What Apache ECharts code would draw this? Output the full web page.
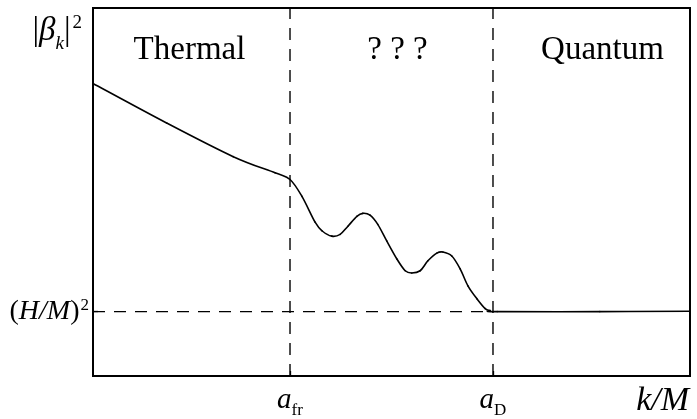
<!DOCTYPE html>
<html>
<head>
<meta charset="utf-8">
<script src="https://cdn.jsdelivr.net/npm/echarts@6/dist/echarts.min.js"></script>
<style>
  html, body { margin: 0; padding: 0; background: #fff; }
  #chart { width: 697px; height: 419px; }
</style>
</head>
<body>
<div id="chart"></div>
<script>
// k/M (arbitrary units, 0..10) and |beta_k|^2 (arbitrary units, 0..10)
var kValues = [0, 1.24, 2.35, 3.05, 3.30, 3.50, 3.72, 3.84, 4.00, 4.14, 4.27, 4.42, 4.52, 4.64, 4.77, 4.92, 5.09, 5.23, 5.34, 5.48, 5.61, 5.76, 5.86, 6.01, 6.15, 6.28, 6.43, 6.57, 6.65, 6.77, 8.49, 10]
var betaValues = [7.95, 6.87, 5.96, 5.52, 5.34, 4.88, 4.18, 3.94, 3.80, 3.85, 4.07, 4.34, 4.42, 4.37, 4.12, 3.67, 3.18, 2.86, 2.80, 2.86, 3.13, 3.34, 3.37, 3.26, 2.91, 2.45, 2.10, 1.83, 1.78, 1.75, 1.75, 1.76]

var A_FR = 3.30   // a_fr
var A_D = 6.70    // a_D
var H_LEVEL = 1.75 // (H/M)^2
var X_MIN = 0, X_MAX = 10
var Y_MIN = 0, Y_MAX = 10

var regionNames = ['Thermal', '? ? ?', 'Quantum']
var regionEdges = [X_MIN, A_FR, A_D, X_MAX]

var FONT = '"Liberation Serif", "Times New Roman", serif'

var curve = kValues.map(function (k, i) { return [k, betaValues[i]] })

var chart = echarts.init(document.getElementById('chart'))

var dash = { type: [12, 9], color: '#000', width: 1.4 }

// smooth curve: one cubic piece per segment, catmull-rom style, points through api.coord
function renderCurve (params, api) {
  var i = params.dataIndex
  var n = curve.length
  if (i >= n - 1) return null
  var p0 = api.coord(curve[Math.max(i - 1, 0)])
  var p1 = api.coord(curve[i])
  var p2 = api.coord(curve[i + 1])
  var p3 = api.coord(curve[Math.min(i + 2, n - 1)])
  return {
    type: 'bezierCurve',
    shape: {
      x1: p1[0], y1: p1[1],
      x2: p2[0], y2: p2[1],
      cpx1: p1[0] + (p2[0] - p0[0]) / 6,
      cpy1: p1[1] + (p2[1] - p0[1]) / 6,
      cpx2: p2[0] - (p3[0] - p1[0]) / 6,
      cpy2: p2[1] - (p3[1] - p1[1]) / 6
    },
    style: { stroke: '#000', lineWidth: 1.6, fill: null, lineCap: 'round' }
  }
}

var opt = {
  animation: false,
  backgroundColor: '#fff',
  grid: {
    show: true,
    left: 93,
    right: 7,
    top: 8,
    bottom: 40,
    borderColor: '#000',
    borderWidth: 2
  },
  xAxis: {
    type: 'value',
    min: X_MIN,
    max: X_MAX,
    splitLine: { show: false },
    axisLine: { show: false },
    axisTick: {
      show: true,
      inside: true,
      length: 5,
      customValues: [A_FR, A_D],
      lineStyle: { color: '#000', width: 1.3 }
    },
    axisLabel: {
      customValues: [A_FR, A_D],
      margin: 10,
      formatter: function (v) {
        return Math.abs(v - A_FR) < 1e-6 ? '{a|a}{s|fr}' : '{a|a}{s|D}'
      },
      rich: {
        a: { fontFamily: FONT, fontStyle: 'italic', fontSize: 29, color: '#000', verticalAlign: 'bottom' },
        s: { fontFamily: FONT, fontSize: 17, color: '#000', verticalAlign: 'bottom', padding: [0, 0, -4, 0] }
      }
    },
    name: 'k/M',
    nameLocation: 'end',
    nameGap: -1,
    nameTextStyle: {
      fontFamily: FONT,
      fontStyle: 'italic',
      fontSize: 34,
      color: '#000',
      align: 'right',
      verticalAlign: 'top',
      padding: [8, 0, 0, 0]
    }
  },
  yAxis: {
    type: 'value',
    min: Y_MIN,
    max: Y_MAX,
    splitLine: { show: false },
    axisLine: { show: false },
    axisTick: {
      show: true,
      inside: true,
      length: 5,
      customValues: [H_LEVEL],
      lineStyle: { color: '#000', width: 1.3 }
    },
    axisLabel: {
      customValues: [H_LEVEL],
      margin: 4,
      formatter: function () { return '{p|(}{i|H/M}{p|)}{sup|2}' },
      rich: {
        p: { fontFamily: FONT, fontSize: 28, color: '#000' },
        i: { fontFamily: FONT, fontStyle: 'italic', fontSize: 28, color: '#000' },
        sup: { fontFamily: FONT, fontSize: 17, color: '#000', verticalAlign: 'top', padding: [0, 0, 12, 1] }
      }
    },
    name: '{p||}{b|β}{k|k}{p||}{sup|2}',
    nameLocation: 'end',
    nameGap: -41,
    nameTextStyle: {
      align: 'right',
      padding: [0, 11, 0, 0],
      rich: {
        p: { fontFamily: FONT, fontSize: 33, color: '#000' },
        b: { fontFamily: FONT, fontStyle: 'italic', fontSize: 33, color: '#000' },
        k: { fontFamily: FONT, fontStyle: 'italic', fontSize: 19, color: '#000', verticalAlign: 'bottom', padding: [0, 0, -4, 0] },
        sup: { fontFamily: FONT, fontSize: 19, color: '#000', verticalAlign: 'top', padding: [0, 0, 16, 2] }
      }
    }
  },
  series: [
    {
      name: 'aFr',
      type: 'line',
      data: [[A_FR, Y_MIN], [A_FR, Y_MAX]],
      showSymbol: false,
      silent: true,
      lineStyle: dash
    },
    {
      name: 'aD',
      type: 'line',
      data: [[A_D, Y_MIN], [A_D, Y_MAX]],
      showSymbol: false,
      silent: true,
      lineStyle: dash
    },
    {
      name: 'hLevel',
      type: 'line',
      data: [[X_MIN, H_LEVEL], [A_D, H_LEVEL]],
      showSymbol: false,
      silent: true,
      lineStyle: dash,
      markArea: {
        silent: true,
        itemStyle: { color: 'rgba(0,0,0,0)' },
        label: {
          show: true,
          position: 'insideTop',
          distance: 26,
          fontFamily: FONT,
          fontSize: 33,
          color: '#000'
        },
        data: regionNames.map(function (n, i) {
          return [
            { name: n, xAxis: regionEdges[i], yAxis: Y_MAX, label: { offset: [i === 0 ? -2 : i === 1 ? 6 : 11, 0] } },
            { xAxis: regionEdges[i + 1], yAxis: Y_MIN }
          ]
        })
      }
    },
    {
      name: 'curve',
      type: 'custom',
      data: curve,
      encode: { x: 0, y: 1 },
      renderItem: renderCurve,
      silent: true,
      z: 3
    }
  ]
}

chart.setOption(opt)
</script>
</body>
</html>
